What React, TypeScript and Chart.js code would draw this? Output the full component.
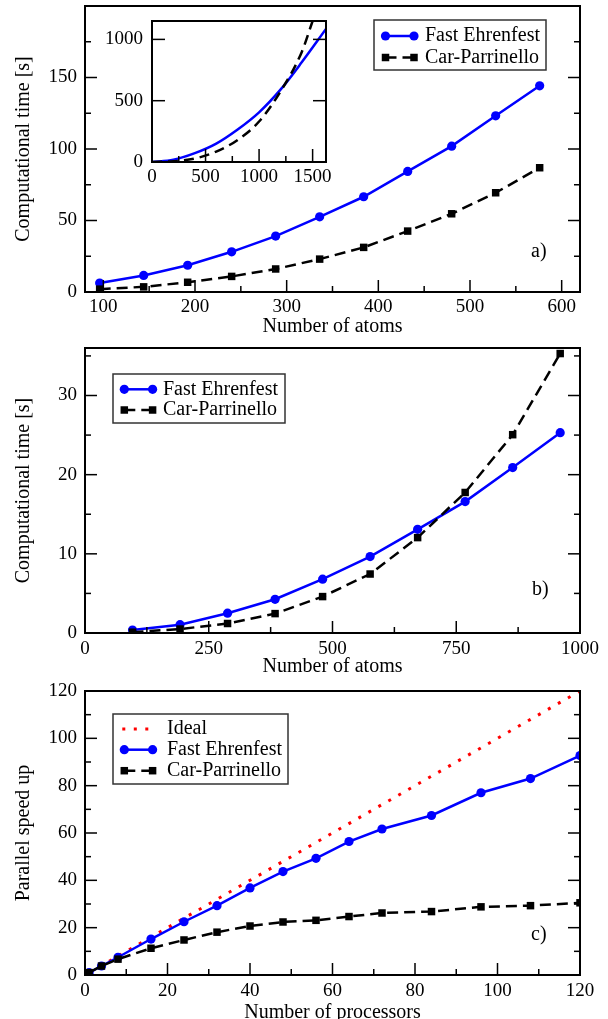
import React, { useEffect, useRef } from "react";
import { Chart, registerables } from "chart.js";
Chart.register(...registerables);

const FONT = "'Liberation Serif', 'Times New Roman', Times, serif";
const BLUE = "#0000ff";
const RED = "#ff0000";

// ---------- Panel a ----------
const atomsA = [96, 144, 192, 240, 288, 336, 384, 432, 480, 528, 576];
const fastEhrenfestA = [6.3, 11.6, 18.7, 28.1, 39.1, 52.6, 66.6, 84.3, 102, 123.2, 144.2];
const carParrinelloA = [2.0, 3.6, 6.8, 10.9, 16.1, 23, 31.2, 42.6, 54.7, 69.4, 86.9];
const xTicksA = [100, 200, 300, 400, 500, 600];
const xMinorA = [150, 250, 350, 450, 550];
const yTicksA = [0, 50, 100, 150];
const yMinorA = [25, 75, 125, 175];

// ---------- Inset of panel a ----------
const insetAtomsFE = [0, 200, 400, 600, 800, 1000, 1200, 1400, 1625];
const insetFE = [0, 18, 72, 150, 265, 405, 590, 815, 1085];
const insetAtomsCP = [0, 200, 400, 600, 800, 1000, 1200, 1400, 1500];
const insetCP = [0, 6, 28, 85, 180, 330, 575, 900, 1150];
const xTicksInset = [0, 500, 1000, 1500];
const xMinorInset = [250, 750, 1250];
const yTicksInset = [0, 500, 1000];

// ---------- Panel b ----------
const atomsB = [96, 192, 288, 384, 480, 576, 672, 768, 864, 960];
const fastEhrenfestB = [0.38, 1.05, 2.5, 4.26, 6.8, 9.65, 13.1, 16.6, 20.9, 25.3];
const carParrinelloB = [0.1, 0.5, 1.2, 2.45, 4.6, 7.45, 12.05, 17.75, 25.05, 35.3];
const xTicksB = [0, 250, 500, 750, 1000];
const xMinorB = [125, 375, 625, 875];
const yTicksB = [0, 10, 20, 30];
const yMinorB = [5, 15, 25, 35];

// ---------- Panel c ----------
const processorsC = [1, 4, 8, 16, 24, 32, 40, 48, 56, 64, 72, 84, 96, 108, 120];
const fastEhrenfestC = [1, 3.8, 7.5, 15.2, 22.5, 29.3, 36.8, 43.7, 49.3, 56.4, 61.7, 67.4, 77, 83, 92.7];
const carParrinelloC = [1, 3.8, 6.7, 11.3, 14.8, 18.1, 20.7, 22.4, 23.1, 24.7, 26.2, 26.8, 28.8, 29.3, 30.5];
const idealX = [1, 120];
const idealY = [1, 120];
const xTicksC = [0, 20, 40, 60, 80, 100, 120];
const xMinorC = [10, 30, 50, 70, 90, 110];
const yTicksC = [0, 20, 40, 60, 80, 100, 120];
const yMinorC = [10, 30, 50, 70, 90, 110];

const pts = (xs: number[], ys: number[]) => xs.map((x, i) => ({ x, y: ys[i] }));

function drawMarker(ctx: CanvasRenderingContext2D, ds: any, x: number, y: number) {
  const r = ds.pointRadius || 0;
  if (!r) return;
  ctx.fillStyle = ds.pointBackgroundColor || ds.borderColor;
  ctx.beginPath();
  if (ds.pointStyle === "rect") {
    const s = r * Math.SQRT1_2;
    ctx.rect(x - s, y - s, 2 * s, 2 * s);
  } else {
    ctx.arc(x, y, r, 0, Math.PI * 2);
  }
  ctx.fill();
}

const decor = {
  id: "decor",
  afterDatasetsDraw(chart: any, _args: any, o: any) {
    const { ctx, chartArea: a, scales } = chart;
    const xs = scales.x, ys = scales.y;
    ctx.save();
    ctx.strokeStyle = "#000";
    ctx.lineWidth = 1.5;
    const seg = (x1: number, y1: number, x2: number, y2: number) => {
      ctx.beginPath();
      ctx.moveTo(x1, y1);
      ctx.lineTo(x2, y2);
      ctx.stroke();
    };
    const xt = (vals: number[], len: number) =>
      vals.forEach((v) => {
        const p = xs.getPixelForValue(v);
        if (p > a.left + 1 && p < a.right - 1) seg(p, a.bottom, p, a.bottom - len);
      });
    const yt = (vals: number[], len: number) =>
      vals.forEach((v) => {
        const p = ys.getPixelForValue(v);
        if (p > a.top + 1 && p < a.bottom - 1) {
          seg(a.left, p, a.left + len, p);
          seg(a.right, p, a.right - len, p);
        }
      });
    xt(o.xMajor || [], o.majorLen);
    xt(o.xMinor || [], o.minorLen);
    yt(o.yMajor || [], o.majorLen);
    yt(o.yMinor || [], o.minorLen);
    ctx.lineWidth = 2;
    ctx.strokeRect(a.left, a.top, a.right - a.left, a.bottom - a.top);

    if (o.legend) {
      const lg = o.legend;
      ctx.fillStyle = "#fff";
      ctx.fillRect(lg.x, lg.y, lg.w, lg.h);
      ctx.strokeStyle = "#333";
      ctx.lineWidth = 1.5;
      ctx.strokeRect(lg.x, lg.y, lg.w, lg.h);
      chart.data.datasets.forEach((ds: any, i: number) => {
        const y = lg.rows[i];
        ctx.strokeStyle = ds.borderColor;
        ctx.lineWidth = ds.borderWidth;
        ctx.lineCap = "butt";
        ctx.setLineDash(ds.borderDash || []);
        seg(lg.x1 - (ds.pointRadius ? 0 : 2), y, lg.x2 + (ds.pointRadius ? 0 : 2), y);
        ctx.setLineDash([]);
        drawMarker(ctx, ds, lg.x1, y);
        drawMarker(ctx, ds, lg.x2, y);
        ctx.fillStyle = "#000";
        ctx.font = `20px ${FONT}`;
        ctx.textAlign = "left";
        ctx.textBaseline = "middle";
        ctx.fillText(ds.label, lg.textX, y);
      });
    }
    if (o.tag) {
      ctx.fillStyle = "#000";
      ctx.font = `20px ${FONT}`;
      ctx.textAlign = "left";
      ctx.textBaseline = "middle";
      ctx.fillText(o.tag.text, o.tag.x, o.tag.y);
    }
    ctx.restore();
  },
};

function axis(opt: {
  min: number; max: number; ticks: number[]; fit: number; isX: boolean;
  title?: string; titlePad?: number; labelPad: number; size?: number;
}) {
  return {
    type: "linear",
    position: opt.isX ? "bottom" : "left",
    min: opt.min,
    max: opt.max,
    grid: { display: false, drawTicks: false },
    border: { display: false },
    ticks: {
      color: "#000",
      font: { family: FONT, size: opt.size || 19 },
      padding: opt.labelPad,
      autoSkip: false,
      maxRotation: 0,
      minRotation: 0,
      includeBounds: false,
      callback: (v: any) => String(v),
    },
    afterBuildTicks: (s: any) => {
      s.ticks = opt.ticks.map((v) => ({ value: v }));
    },
    afterFit: (s: any) => {
      if (opt.isX) s.height = opt.fit;
      else s.width = opt.fit;
      s.paddingTop = 0;
      s.paddingBottom = 0;
      s.paddingLeft = 0;
      s.paddingRight = 0;
    },
    title: opt.title
      ? {
          display: true,
          text: opt.title,
          color: "#000",
          font: { family: FONT, size: 20, lineHeight: 1.2 },
          padding: opt.isX ? { top: 0, bottom: opt.titlePad } : { top: opt.titlePad, bottom: 0 },
        }
      : { display: false },
  };
}

const feStyle = (label: string, data: any[], order: number) => ({
  label, data, order,
  borderColor: BLUE, backgroundColor: BLUE, pointBackgroundColor: BLUE,
  borderWidth: 2.5, pointRadius: 4.6, pointStyle: "circle", pointBorderWidth: 0,
  tension: 0,
});
const cpStyle = (label: string, data: any[], order: number) => ({
  label, data, order,
  borderColor: "#000", backgroundColor: "#000", pointBackgroundColor: "#000",
  borderWidth: 2.5, borderDash: [11, 6], pointRadius: 5.3, pointStyle: "rect", pointBorderWidth: 0,
  tension: 0,
});

function baseOptions(padding: any, scales: any, decorOpts: any) {
  return {
    responsive: false,
    animation: false,
    devicePixelRatio: 1,
    layout: { padding, autoPadding: false },
    events: [],
    plugins: { legend: { display: false }, tooltip: { enabled: false }, decor: decorOpts },
    scales,
  };
}

function ChartCanvas({ left, top, width, height, build }: any) {
  const ref = useRef<HTMLCanvasElement | null>(null);
  useEffect(() => {
    const chart = new Chart(ref.current as HTMLCanvasElement, build());
    return () => chart.destroy();
  }, []);
  return (
    <canvas
      ref={ref}
      width={width}
      height={height}
      style={{ position: "absolute", left, top, width, height }}
    />
  );
}

const buildA = () => ({
  type: "line",
  data: {
    datasets: [
      feStyle("Fast Ehrenfest", pts(atomsA, fastEhrenfestA), 2),
      cpStyle("Car-Parrinello", pts(atomsA, carParrinelloA), 1),
    ],
  },
  options: baseOptions(
    { top: 6, right: 28, left: 0, bottom: 0 },
    {
      x: axis({ min: 80, max: 620, ticks: xTicksA, fit: 53, isX: true, title: "Number of atoms", titlePad: 6, labelPad: 3.5 }),
      y: axis({ min: 0, max: 200, ticks: yTicksA, fit: 85, isX: false, title: "Computational time [s]", titlePad: 12, labelPad: 8 }),
    },
    {
      xMajor: xTicksA, xMinor: xMinorA, yMajor: yTicksA, yMinor: yMinorA, majorLen: 12, minorLen: 6,
      legend: { x: 374, y: 20, w: 172, h: 50, rows: [36, 57.5], x1: 385.5, x2: 414, textX: 425 },
      tag: { text: "a)", x: 531, y: 252 },
    }
  ),
  plugins: [decor],
});

const buildInset = () => ({
  type: "line",
  data: {
    datasets: [
      { label: "Fast Ehrenfest", data: pts(insetAtomsFE, insetFE), borderColor: BLUE, borderWidth: 2.5, pointRadius: 0, cubicInterpolationMode: "monotone", order: 2 },
      { label: "Car-Parrinello", data: pts(insetAtomsCP, insetCP), borderColor: "#000", borderWidth: 2.5, borderDash: [10, 6], pointRadius: 0, cubicInterpolationMode: "monotone", order: 1 },
    ],
  },
  options: baseOptions(
    { top: 21, right: 10, left: 0, bottom: 0 },
    {
      x: axis({ min: 0, max: 1625, ticks: xTicksInset, fit: 38, isX: true, labelPad: 4 }),
      y: axis({ min: 0, max: 1150, ticks: yTicksInset, fit: 62, isX: false, labelPad: 9 }),
    },
    { xMajor: xTicksInset, xMinor: xMinorInset, yMajor: yTicksInset, yMinor: [], majorLen: 13, minorLen: 6 }
  ),
  plugins: [decor],
});

const buildB = () => ({
  type: "line",
  data: {
    datasets: [
      feStyle("Fast Ehrenfest", pts(atomsB, fastEhrenfestB), 2),
      cpStyle("Car-Parrinello", pts(atomsB, carParrinelloB), 1),
    ],
  },
  options: baseOptions(
    { top: 8, right: 28, left: 0, bottom: 0 },
    {
      x: axis({ min: 0, max: 1000, ticks: xTicksB, fit: 52, isX: true, title: "Number of atoms", titlePad: 6, labelPad: 4.5 }),
      y: axis({ min: 0, max: 36, ticks: yTicksB, fit: 85, isX: false, title: "Computational time [s]", titlePad: 12, labelPad: 8 }),
    },
    {
      xMajor: xTicksB, xMinor: xMinorB, yMajor: yTicksB, yMinor: yMinorB, majorLen: 12, minorLen: 6,
      legend: { x: 113, y: 34, w: 172, h: 49, rows: [49.3, 70], x1: 124.3, x2: 152.6, textX: 163 },
      tag: { text: "b)", x: 532, y: 250 },
    }
  ),
  plugins: [decor],
});

const buildC = () => ({
  type: "line",
  data: {
    datasets: [
      { label: "Ideal", data: pts(idealX, idealY), borderColor: RED, backgroundColor: RED, borderWidth: 3, borderDash: [3, 8.5], pointRadius: 0, order: 3 },
      feStyle("Fast Ehrenfest", pts(processorsC, fastEhrenfestC), 2),
      cpStyle("Car-Parrinello", pts(processorsC, carParrinelloC), 1),
    ],
  },
  options: baseOptions(
    { top: 13, right: 28, left: 0, bottom: 0 },
    {
      x: axis({ min: 0, max: 120, ticks: xTicksC, fit: 53, isX: true, title: "Number of processors", titlePad: 3, labelPad: 4.5 }),
      y: axis({ min: 0, max: 120, ticks: yTicksC, fit: 85, isX: false, title: "Parallel speed up", titlePad: 12, labelPad: 8 }),
    },
    {
      xMajor: xTicksC, xMinor: xMinorC, yMajor: yTicksC, yMinor: yMinorC, majorLen: 12, minorLen: 6,
      legend: { x: 113, y: 36, w: 175, h: 70, rows: [51, 71.7, 92.7], x1: 124.3, x2: 152.6, textX: 167 },
      tag: { text: "c)", x: 531, y: 257 },
    }
  ),
  plugins: [decor],
});

export default function App() {
  return (
    <div style={{ position: "absolute", left: 0, top: 0, width: 608, height: 1019, overflow: "hidden", background: "#fff" }}>
      <ChartCanvas left={0} top={0} width={608} height={345} build={buildA} />
      <ChartCanvas left={90} top={0} width={246} height={200} build={buildInset} />
      <ChartCanvas left={0} top={340} width={608} height={345} build={buildB} />
      <ChartCanvas left={0} top={678} width={608} height={350} build={buildC} />
    </div>
  );
}
